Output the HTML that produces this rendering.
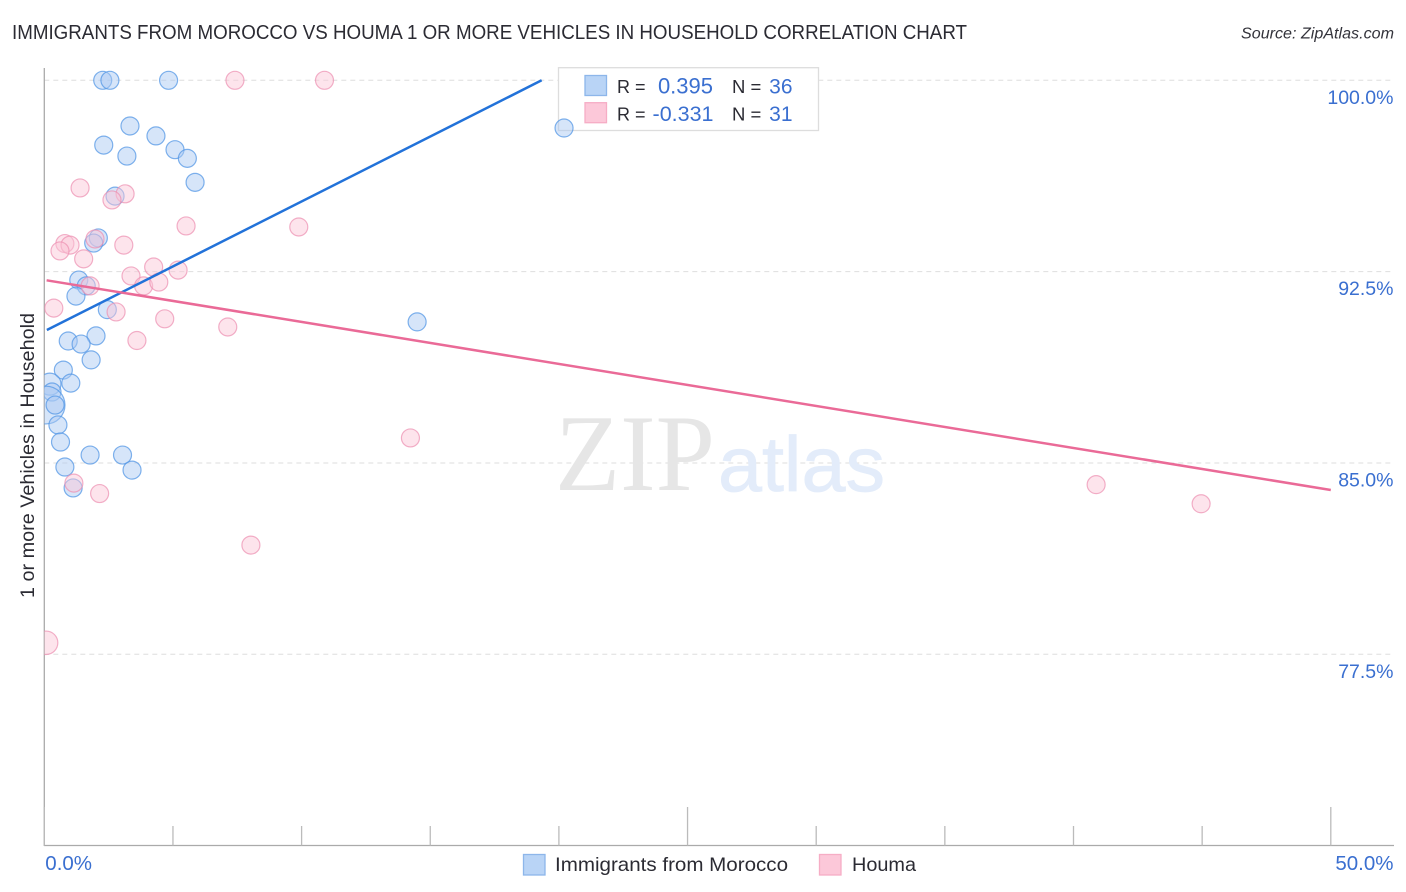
<!DOCTYPE html>
<html lang="en">
<head>
<meta charset="utf-8">
<title>Immigrants from Morocco vs Houma correlation chart</title>
<style>
  html, body { margin: 0; padding: 0; background: #fff; width: 1406px; height: 892px; overflow: hidden; }
  svg { display: block; }
  text { font-family: "Liberation Sans", sans-serif; }
</style>
</head>
<body>
<svg id="chart" xmlns="http://www.w3.org/2000/svg" width="1406" height="892" viewBox="0 0 1406 892">
  <defs>
    <clipPath id="plot-clip"><rect x="44.3" y="60" width="1350" height="786"></rect></clipPath>
  </defs>
  <rect x="0" y="0" width="1406" height="892" fill="#ffffff"></rect>

  <text x="12" y="39" font-size="20" fill="#2b2b33" textLength="955" lengthAdjust="spacingAndGlyphs">IMMIGRANTS FROM MOROCCO VS HOUMA 1 OR MORE VEHICLES IN HOUSEHOLD CORRELATION CHART</text>
  <text x="1241" y="38.5" font-size="15.5" font-style="italic" fill="#33333b" textLength="153" lengthAdjust="spacingAndGlyphs">Source: ZipAtlas.com</text>

  <g id="grid"></g>

  <g>
    <text x="555" y="490" font-size="109" fill="#e6e6e6" textLength="160" lengthAdjust="spacingAndGlyphs" style="font-family:'Liberation Serif',serif">ZIP</text>
    <text x="718" y="491" font-size="78" fill="#e3ecfa" stroke="#e3ecfa" stroke-width="0.8" textLength="167" lengthAdjust="spacingAndGlyphs">atlas</text>
  </g>

  <line x1="44.3" y1="68" x2="44.3" y2="846" stroke="#aaaaaa" stroke-width="1.3"></line>
  <line x1="44" y1="845.5" x2="1394" y2="845.5" stroke="#aaaaaa" stroke-width="1.3"></line>
  <g id="x-ticks"></g>
  <g id="x-labels"></g>
  <g id="y-labels"></g>

  <text transform="translate(34 598) rotate(-90)" x="0" y="0" font-size="19" fill="#2b2b33" textLength="285" lengthAdjust="spacingAndGlyphs">1 or more Vehicles in Household</text>

  <g>
    <rect x="558.5" y="67.7" width="260" height="62.8" fill="#ffffff" stroke="#dddddd" stroke-width="1.3"></rect>
    <rect x="585" y="75.5" width="21.5" height="20" fill="#b9d4f6" stroke="#8db6ea" stroke-width="1.3"></rect>
    <rect x="585" y="102.7" width="21.5" height="20" fill="#fcc8d9" stroke="#f6adc5" stroke-width="1.3"></rect>
    <text x="617" y="93" font-size="18" fill="#2b2b33">R =</text>
    <text x="713" y="93.5" font-size="22" fill="#3a6fd0" text-anchor="end">0.395</text>
    <text x="732" y="93" font-size="18.5" fill="#2b2b33">N =</text>
    <text x="792.5" y="93.5" font-size="21" fill="#3a6fd0" text-anchor="end">36</text>
    <text x="617" y="120.5" font-size="18" fill="#2b2b33">R =</text>
    <text x="713.5" y="121" font-size="21.5" fill="#3a6fd0" text-anchor="end">-0.331</text>
    <text x="732" y="120.5" font-size="18.5" fill="#2b2b33">N =</text>
    <text x="792.5" y="121" font-size="21" fill="#3a6fd0" text-anchor="end">31</text>
  </g>

  <g id="points-morocco" clip-path="url(#plot-clip)"></g>
  <g id="points-houma" clip-path="url(#plot-clip)"></g>
  <g id="trends"></g>

  <g>
    <rect x="523.5" y="854.5" width="21.5" height="20.5" fill="#b9d4f6" stroke="#8db6ea" stroke-width="1.3"></rect>
    <text x="555" y="871" font-size="19.5" fill="#2b2b33" textLength="233" lengthAdjust="spacingAndGlyphs">Immigrants from Morocco</text>
    <rect x="819.5" y="854.5" width="21.5" height="20.5" fill="#fcc8d9" stroke="#f6adc5" stroke-width="1.3"></rect>
    <text x="852" y="871" font-size="19.5" fill="#2b2b33" textLength="64" lengthAdjust="spacingAndGlyphs">Houma</text>
  </g>
</svg>

<script>
// ---- chart data (percent values) ----
const yTickValues = [100, 92.5, 85, 77.5];
const yTickLabels = ["100.0%", "92.5%", "85.0%", "77.5%"];
const xTickValues = [0, 5, 10, 15, 20, 25, 30, 35, 40, 45, 50];
const xMajorTicks = [0, 25, 50];
const xEdgeValues = [0, 50];
const xEdgeLabels = ["0.0%", "50.0%"];

const moroccoX = [2.27, 2.55, 4.83, 3.33, 4.34, 2.31, 3.21, 5.08, 5.56, 5.86, 2.75, 2.10, 1.92, 1.34, 1.63, 1.23, 2.45, 2.01, 0.93, 1.43, 1.82, 0.74, 1.03, 0.22, 0.30, 0.07, 0.42, 0.53, 0.63, 0.80, 1.78, 3.04, 3.41, 1.12, 14.49, 20.20];
const moroccoY = [100, 100, 100, 98.21, 97.82, 97.46, 97.03, 97.28, 96.94, 96.00, 95.46, 93.82, 93.62, 92.17, 91.94, 91.54, 91.01, 89.98, 89.78, 89.66, 89.04, 88.64, 88.13, 88.09, 87.78, 87.27, 87.27, 86.49, 85.82, 84.84, 85.31, 85.31, 84.72, 84.02, 90.53, 98.13];
const moroccoWeight = [1, 1, 1, 1, 1, 1, 1, 1, 1, 1, 1, 1, 1, 1, 1, 1, 1, 1, 1, 1, 1, 1, 1, 1.5, 1, 4.4, 1, 1, 1, 1, 1, 1, 1, 1, 1, 1];

const houmaX = [7.41, 10.89, 1.39, 3.14, 2.63, 5.51, 9.89, 1.97, 3.09, 0.80, 1.00, 0.61, 1.53, 3.37, 4.25, 5.20, 3.86, 4.45, 1.78, 2.79, 0.37, 4.68, 7.13, 3.60, 14.23, 1.15, 2.15, 8.03, 40.88, 44.96, 0.07];
const houmaY = [100, 100, 95.78, 95.55, 95.31, 94.29, 94.25, 93.78, 93.54, 93.60, 93.54, 93.31, 93.00, 92.33, 92.68, 92.56, 91.94, 92.09, 91.94, 90.92, 91.07, 90.65, 90.33, 89.80, 85.98, 84.21, 83.80, 81.78, 84.15, 83.40, 77.95];
const houmaWeight = [1, 1, 1, 1, 1, 1, 1, 1, 1, 1, 1, 1, 1, 1, 1, 1, 1, 1, 1, 1, 1, 1, 1, 1, 1, 1, 1, 1, 1, 1, 1.7];

const moroccoTrendX = [0.1, 19.33];
const moroccoTrendY = [90.21, 100];
const houmaTrendX = [0.09, 50];
const houmaTrendY = [92.16, 83.94];

// ---- axis functions ----
function xScale(v) { return 44.3 + v * 25.73; }
function yScale(v) { return 80.3 + (100 - v) * 25.51; }
function radius(w) { return 9 * Math.sqrt(w); }

const NS = "http://www.w3.org/2000/svg";
function make(tag, parentId, props) {
  const el = document.createElementNS(NS, tag);
  Object.keys(props).forEach(function (k) { el.setAttribute(k, props[k]); });
  document.getElementById(parentId).appendChild(el);
  return el;
}

yTickValues.forEach(function (v, i) {
  const line = make("line", "grid", { x1: 44.3, x2: 1394, y1: yScale(v), y2: yScale(v), stroke: "#dedede", "stroke-width": 1, "stroke-dasharray": "5 4" });
  
  
  const label = make("text", "y-labels", { x: 1393.5, y: yScale(v) + 23.5, "font-size": 19.5, fill: "#3a6fd0", "text-anchor": "end" });
  label.textContent = yTickLabels[i];
  
  
});

xTickValues.forEach(function (v) {
  const top = xMajorTicks.indexOf(v) >= 0 ? 807 : 826;
  const tick = make("line", "x-ticks", { x1: xScale(v), x2: xScale(v), y1: top, y2: 845.5, stroke: "#bbbbbb", "stroke-width": 1.3 });
  
  
});

xEdgeValues.forEach(function (v, i) {
  const label = make("text", "x-labels", {
    x: v === 0 ? xScale(v) + 1 : 1393.5,
    y: 870,
    "font-size": 20.5,
    fill: "#3a6fd0",
    "text-anchor": v === 0 ? "start" : "end"
  });
  label.textContent = xEdgeLabels[i];
  
  
});

moroccoX.forEach(function (x, i) {
  const c = make("circle", "points-morocco", {
    cx: xScale(x), cy: yScale(moroccoY[i]), r: radius(moroccoWeight[i]),
    fill: "#a9c9f2", "fill-opacity": 0.48, stroke: "#4f94e4", "stroke-opacity": 0.72, "stroke-width": 1.2
  });
  
  
});

houmaX.forEach(function (x, i) {
  const c = make("circle", "points-houma", {
    cx: xScale(x), cy: yScale(houmaY[i]), r: radius(houmaWeight[i]),
    fill: "#fac6d8", "fill-opacity": 0.48, stroke: "#ec8fb0", "stroke-opacity": 0.7, "stroke-width": 1.2
  });
  
  
});

const trendMorocco = make("line", "trends", {
  x1: xScale(moroccoTrendX[0]), y1: yScale(moroccoTrendY[0]),
  x2: xScale(moroccoTrendX[1]), y2: yScale(moroccoTrendY[1]),
  stroke: "#2272d9", "stroke-width": 2.5
});



const trendHouma = make("line", "trends", {
  x1: xScale(houmaTrendX[0]), y1: yScale(houmaTrendY[0]),
  x2: xScale(houmaTrendX[1]), y2: yScale(houmaTrendY[1]),
  stroke: "#ea6a97", "stroke-width": 2.5
});


</script>
</body>
</html>
